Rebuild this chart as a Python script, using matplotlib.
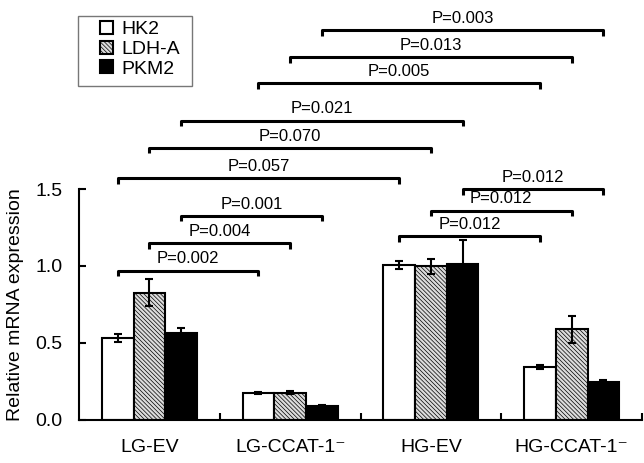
import numpy as np
import matplotlib.pyplot as plt
from matplotlib.patches import Patch, Rectangle

plt.rcParams['font.family'] = ['Liberation Sans', 'DejaVu Sans']
plt.rcParams['hatch.linewidth'] = 0.5

# -----------------------------
# Data
# -----------------------------
groups = ['LG-EV', 'LG-CCAT-1⁻', 'HG-EV', 'HG-CCAT-1⁻']
genes = ['HK2', 'LDH-A', 'PKM2']

hk2 = [0.534, 0.177, 1.006, 0.343]
hk2_err = [0.025, 0.005, 0.025, 0.012]
ldha = [0.827, 0.177, 0.998, 0.589]
ldha_err = [0.087, 0.010, 0.050, 0.088]
pkm2 = [0.567, 0.092, 1.011, 0.247]
pkm2_err = [0.032, 0.005, 0.160, 0.010]

# brackets: (group a, group b, gene index, height, label)
brk_a = [0, 0, 0, 0, 0, 0, 1, 1, 1, 2, 2, 2]
brk_b = [1, 1, 1, 2, 2, 2, 3, 3, 3, 3, 3, 3]
brk_gene = [0, 1, 2, 0, 1, 2, 0, 1, 2, 0, 1, 2]
brk_y = [0.97, 1.147, 1.325, 1.57, 1.766, 1.944, 2.186, 2.355, 2.53, 1.192, 1.36, 1.498]
brk_p = ['P=0.002', 'P=0.004', 'P=0.001', 'P=0.057', 'P=0.070', 'P=0.021',
         'P=0.005', 'P=0.013', 'P=0.003', 'P=0.012', 'P=0.012', 'P=0.012']

# -----------------------------
# Plot
# -----------------------------
fig = plt.figure(figsize=(6.44, 4.63), dpi=100)
ax = fig.add_axes([0.1227, 0.0929, 0.8743, 0.898])

x = np.arange(len(groups))
w = 0.225
offsets = [-w, 0, w]
vals = [hk2, ldha, pkm2]
errs = [hk2_err, ldha_err, pkm2_err]
faces = ['white', '#dcdcdc', 'black']
hatches = [None, '\\\\\\\\\\\\\\\\', None]

for i in range(3):
    ax.bar(x + offsets[i], vals[i], width=w, color=faces[i], edgecolor='black',
           linewidth=1.5, hatch=hatches[i], zorder=2)
    ax.errorbar(x + offsets[i], vals[i], yerr=errs[i], fmt='none', ecolor='black',
                elinewidth=1.5, capsize=2.6, capthick=1.5, zorder=3)

drop = 0.035
for a, b, g, y, p in zip(brk_a, brk_b, brk_gene, brk_y, brk_p):
    x1 = x[a] + offsets[g]
    x2 = x[b] + offsets[g]
    ax.plot([x1, x1, x2, x2], [y - drop, y, y, y - drop], color='black', lw=2.2,
            solid_capstyle='butt', clip_on=False)
    ax.text((x1 + x2) / 2, y + 0.027, p, ha='center', va='bottom', fontsize=12)

ax.set_xlim(-0.5, 3.5)
ax.set_ylim(0, 2.7)
ax.spines['top'].set_visible(False)
ax.spines['right'].set_visible(False)
ax.spines['left'].set_bounds(0, 1.5)
ax.spines['left'].set_linewidth(1.5)
ax.spines['bottom'].set_linewidth(1.5)

ax.set_yticks([0, 0.5, 1.0, 1.5])
ax.set_yticklabels(['0.0', '0.5', '1.0', '1.5'])
ax.tick_params(axis='y', direction='in', length=5, width=1.5, pad=12, labelsize=14)

ax.set_xticks(x)
ax.set_xticklabels(groups)
ax.set_xticks([0.5, 1.5, 2.5, 3.5], minor=True)
ax.tick_params(axis='x', which='major', length=0, pad=14, labelsize=14)
ax.tick_params(axis='x', which='minor', direction='in', length=5, width=1.5)

ax.set_ylabel('Relative mRNA expression', fontsize=14)
ax.yaxis.set_label_coords(-0.097, 0.278)

# legend with a hand-placed frame
handles = [Patch(facecolor=faces[i], edgecolor='black', linewidth=1.5,
                 hatch=hatches[i], label=genes[i]) for i in range(3)]
leg = fig.legend(handles=handles, loc='upper left', bbox_to_anchor=(100 / 644, 1 - 21 / 463),
                 fontsize=14, frameon=False,
                 handlelength=0.65, handleheight=0.65, handletextpad=0.45,
                 labelspacing=0.12, borderpad=0, borderaxespad=0)
fig.patches.append(Rectangle((78 / 644, 1 - 86 / 463), 114 / 644, 70 / 463,
                             transform=fig.transFigure, fill=False,
                             edgecolor='#777777', linewidth=1.0))

fig.savefig('out.png', dpi=100)
